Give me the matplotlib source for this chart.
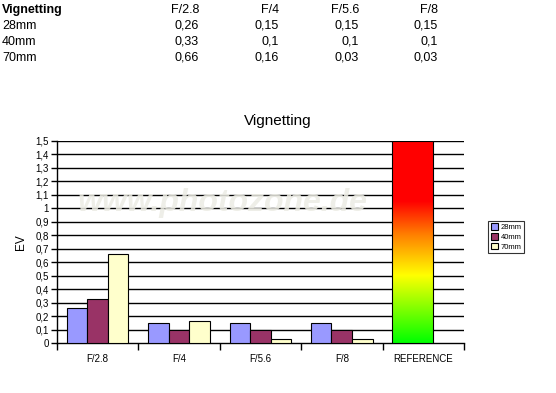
import numpy as np
import matplotlib.pyplot as plt
from matplotlib.colors import LinearSegmentedColormap
from matplotlib.patches import Rectangle

# data
apertures = ['F/2.8', 'F/4', 'F/5.6', 'F/8']
categories = apertures + ['REFERENCE']
series_names = ['28mm', '40mm', '70mm']
vals_28 = [0.26, 0.15, 0.15, 0.15]
vals_40 = [0.33, 0.10, 0.10, 0.10]
vals_70 = [0.66, 0.16, 0.03, 0.03]
reference_max = 1.5
ytick_vals = np.arange(0, 16) / 10

colors = ['#9999ff', '#993366', '#ffffcc']
series = [vals_28, vals_40, vals_70]

fig = plt.figure(figsize=(5.56, 3.93), dpi=100)
fig.patch.set_facecolor('white')
plt.rcParams['font.family'] = ['Liberation Sans', 'DejaVu Sans']

# header table
def fmt(v):
    s = ('%.2f' % v).rstrip('0').rstrip('.')
    return s.replace('.', ',')

fig.text(2 / 556, 1 - 10 / 393, 'Vignetting', fontsize=9, fontweight='bold', va='center', ha='left')
col_x = [199, 279, 359, 438]
for j, a in enumerate(apertures):
    fig.text(col_x[j] / 556, 1 - 10 / 393, a, fontsize=9, va='center', ha='right')
row_y = [26, 42, 58]
for r, (name, vals) in enumerate(zip(series_names, series)):
    fig.text(2 / 556, 1 - row_y[r] / 393, name, fontsize=9, va='center', ha='left')
    for j, v in enumerate(vals):
        fig.text(col_x[j] / 556, 1 - row_y[r] / 393, fmt(v), fontsize=9, va='center', ha='right')

# chart
ax = fig.add_axes([57 / 556, 1 - 343 / 393, 407 / 556, 202 / 393])
ax.set_xlim(0, 5)
ax.set_ylim(0, 1.5)

for y in ytick_vals[1:]:
    ax.axhline(y, color='black', lw=1, zorder=1)

# watermark
ax.text((222 - 57) / 407, (343 - 203) / 202, 'www.photozone.de', transform=ax.transAxes,
        fontsize=23, fontweight='bold', style='italic', color='#ecece4', alpha=0.85,
        ha='center', va='center', zorder=2)

w = 0.252
offs = [0.12, 0.372, 0.624]
for k, vals in enumerate(series):
    x = np.arange(len(vals)) + offs[k]
    ax.bar(x, vals, width=w, align='edge', color=colors[k], edgecolor='black', lw=0.8,
           zorder=3, label=series_names[k])

# reference gradient bar
cmap = LinearSegmentedColormap.from_list('ref', [(0, '#00ff00'), (0.5 / 1.5, '#ffff00'),
                                                  (0.8 / 1.5, '#ff8000'), (1.05 / 1.5, '#ff0000'),
                                                  (1, '#ff0000')])
grad = np.linspace(0, 1, 256).reshape(-1, 1)
rx0, rx1 = 4 + 0.12, 4 + 0.624
ax.imshow(grad, cmap=cmap, origin='lower', extent=[rx0, rx1, 0, reference_max],
          aspect='auto', zorder=3)
ax.add_patch(Rectangle((rx0, 0), rx1 - rx0, reference_max, fill=False, edgecolor='black',
                       lw=0.8, zorder=4))
ax.set_xlim(0, 5)
ax.set_ylim(0, 1.5)

for s in ['top', 'right']:
    ax.spines[s].set_visible(False)
ax.spines['left'].set_linewidth(1)
ax.spines['bottom'].set_linewidth(1)

ax.set_yticks(ytick_vals)
ax.set_yticklabels([fmt(v) for v in ytick_vals], fontsize=7)
ax.tick_params(axis='y', length=4, width=1, pad=2)

ax.set_xticks(np.arange(5) + 0.5)
ax.set_xticklabels(categories, fontsize=7)
ax.set_xticks(np.arange(6), minor=True)
ax.tick_params(axis='x', which='major', length=0, pad=8)
ax.tick_params(axis='x', which='minor', length=5, width=1, direction='out')

ax.set_ylabel('EV', fontsize=8.5, labelpad=6)
fig.text(278 / 556, 1 - 121 / 393, 'Vignetting', fontsize=11, ha='center', va='center')

h, l = ax.get_legend_handles_labels()
leg = fig.legend(h, l, loc='center', bbox_to_anchor=(506 / 556, 1 - 237 / 393), fontsize=5.5,
                 frameon=True, fancybox=False, edgecolor='black', handlelength=1.0,
                 handleheight=1.0, handletextpad=0.3, borderpad=0.3, labelspacing=0.2,
                 borderaxespad=0)
leg.get_frame().set_linewidth(0.8)

fig.savefig('out.png', dpi=100)
